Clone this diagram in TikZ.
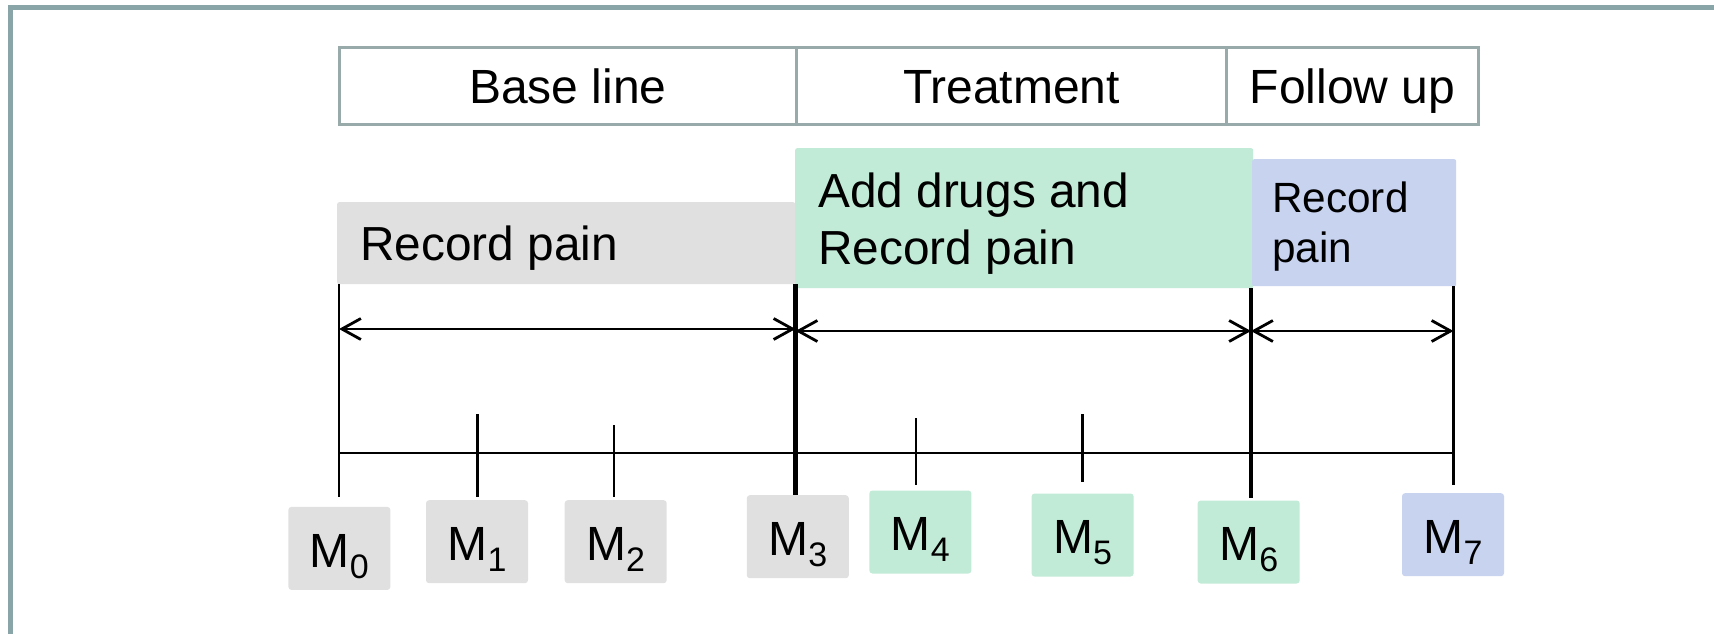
\documentclass[tikz,border=0pt]{standalone}
\usepackage{fontspec}
\setmainfont{Liberation Sans}
\usetikzlibrary{arrows.meta}

\definecolor{framecol}{RGB}{138,165,168}
\definecolor{cellcol}{RGB}{152,170,170}
\definecolor{basefill}{RGB}{224,224,224}
\definecolor{treatfill}{RGB}{193,235,215}
\definecolor{followfill}{RGB}{200,211,240}

% measurement label: M with a lowered index
\newcommand\mlab[1]{M\raisebox{-11pt}{\fontsize{34}{34}\selectfont #1}}

\tikzset{
  headcell/.style={draw=cellcol, line width=3pt, anchor=north west, inner sep=0pt,
    minimum height=77pt, text height=35pt, text depth=0pt,
    font=\fontsize{48}{48}\selectfont},
  phasebox/.style={anchor=north west, inner sep=0pt, rounded corners=2pt},
  phasetext/.style={anchor=base west, inner sep=0pt, font=\fontsize{47.8}{47.8}\selectfont},
  smalltext/.style={anchor=base west, inner sep=0pt, font=\fontsize{42.3}{42.3}\selectfont},
  mbox/.style={anchor=north, rounded corners=3pt, minimum width=102pt, minimum height=83pt,
    inner sep=0pt, text height=44pt, text depth=6.6pt, font=\fontsize{48}{48}\selectfont},
  thin/.style={line width=2.2pt},
  thick/.style={line width=4.5pt},
  span/.style={line width=2.8pt, {Straight Barb[length=19pt,width=21pt]}-{Straight Barb[length=19pt,width=21pt]}},
}

\begin{document}
\begin{tikzpicture}[x=1pt,y=-1pt]
\useasboundingbox (0,0) rectangle (1714,634);

% slide frame
\coordinate (frameR) at (1714,7.5);
\coordinate (frameC) at (10.5,7.5);
\coordinate (frameB) at (10.5,634);
\draw[framecol, line width=5pt] (frameR) -- (frameC) -- (frameB);

% phase header
\node[headcell, minimum width=457pt] (hbase)  at (338,46)  {Base line};
\node[headcell, minimum width=430pt] (htreat) at (795,46)  {Treatment};
\node[headcell, minimum width=252pt] (hfollow) at (1225,46) {Follow up};

% activity boxes
\node[phasebox, fill=basefill,   minimum width=458pt, minimum height=82pt]  (pbase)   at (337,202) {};
\node[phasebox, fill=treatfill,  minimum width=458pt, minimum height=140pt] (ptreat)  at (795,148) {};
\node[phasebox, fill=followfill, minimum width=204pt, minimum height=127pt] (pfollow) at (1252,159) {};

\node[phasetext] (tbase)  at (360,260)   {Record pain};
\node[phasetext] (ttreat1) at (818,207)  {Add drugs and};
\node[phasetext] (ttreat2) at (818,264)  {Record pain};
\node[smalltext] (tfollow1) at (1272,212) {Record};
\node[smalltext] (tfollow2) at (1272,262) {pain};

% phase boundaries
\coordinate (b0t) at (339,284);    \coordinate (b0b) at (339,497);
\coordinate (b3t) at (795.5,284);  \coordinate (b3b) at (795.5,495);
\coordinate (b6t) at (1251,288);   \coordinate (b6b) at (1251,498);
\coordinate (b7t) at (1453.5,286); \coordinate (b7b) at (1453.5,485);
\draw[thin]  (b0t) -- (b0b);
\draw[thick] (b3t) -- (b3b);
\draw[thick] (b6t) -- (b6b);
\draw[thin]  (b7t) -- (b7b);

% phase durations
\coordinate (a0) at (339,329);  \coordinate (a3) at (795.5,329);
\coordinate (a3r) at (795.5,331); \coordinate (a6) at (1251,331);
\coordinate (a6r) at (1251,331); \coordinate (a7) at (1453.5,331);
\draw[span] (a0) -- (a3);
\draw[span] (a3r) -- (a6);
\draw[span] (a6r) -- (a7);

% time axis
\coordinate (axL) at (339,453);
\coordinate (axR) at (1453.5,453);
\draw[thin] (axL) -- (axR);

% intermediate measurement ticks
\coordinate (k1t) at (477.5,414);  \coordinate (k1b) at (477.5,497);
\coordinate (k2t) at (614,425);    \coordinate (k2b) at (614,497);
\coordinate (k4t) at (916,418);    \coordinate (k4b) at (916,485);
\coordinate (k5t) at (1082.5,414); \coordinate (k5b) at (1082.5,482);
\draw[thin] (k1t) -- (k1b);
\draw[thin] (k2t) -- (k2b);
\draw[thin] (k4t) -- (k4b);
\draw[thin] (k5t) -- (k5b);

% measurement labels
\node[mbox, fill=basefill]   (m0) at (339.4,506.7) {\mlab{0}};
\node[mbox, fill=basefill]   (m1) at (477,500)     {\mlab{1}};
\node[mbox, fill=basefill]   (m2) at (615.7,500)   {\mlab{2}};
\node[mbox, fill=basefill]   (m3) at (797.8,495)   {\mlab{3}};
\node[mbox, fill=treatfill]  (m4) at (920.4,490.3) {\mlab{4}};
\node[mbox, fill=treatfill]  (m5) at (1082.6,493.3){\mlab{5}};
\node[mbox, fill=treatfill]  (m6) at (1248.7,500.3){\mlab{6}};
\node[mbox, fill=followfill] (m7) at (1453,493)    {\mlab{7}};
\end{tikzpicture}
\end{document}
